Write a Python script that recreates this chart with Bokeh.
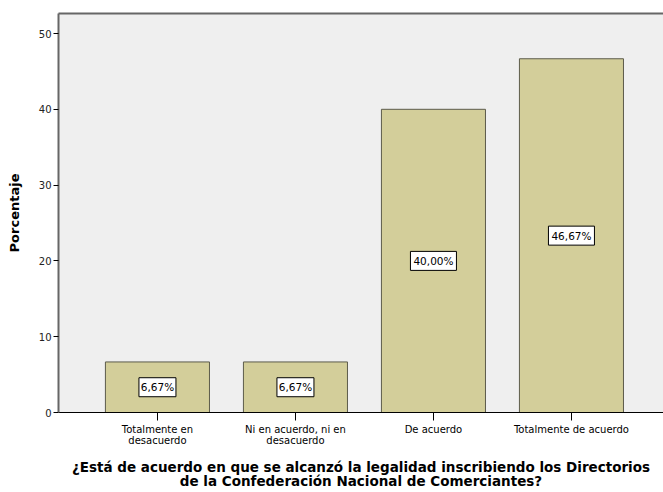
from bokeh.plotting import figure
from bokeh.models import ColumnDataSource, FixedTicker, LinearAxis, Range1d
from bokeh.core.properties import value
from bokeh.embed import file_html
from bokeh.resources import INLINE

categories = ["Totalmente en\ndesacuerdo", "Ni en acuerdo, ni en\ndesacuerdo", "De acuerdo", "Totalmente de acuerdo"]
values = [6.67, 6.67, 40.00, 46.67]
value_labels = ["6,67%", "6,67%", "40,00%", "46,67%"]
y_ticks = [0, 10, 20, 30, 40, 50]
x_title = "¿Está de acuerdo en que se alcanzó la legalidad inscribiendo los Directorios\nde la Confederación Nacional de Comerciantes?"
y_title = "Porcentaje"

xs = list(range(len(categories)))
src = ColumnDataSource(dict(x=xs, top=values, mid=[v / 2 for v in values], lab=value_labels,
                            bw=[9 * len(s) - 8 for s in value_labels]))

FONT = "DejaVu Sans"

p = figure(frame_width=605, frame_height=399, output_backend="svg", toolbar_location=None,
           x_range=Range1d(-0.717, 3.667), y_range=Range1d(0, 52.64),
           min_border_left=58, min_border_right=0, min_border_top=13, min_border_bottom=80)
p.background_fill_color = "#EFEFEF"
p.border_fill_color = "white"
p.outline_line_color = None
p.xgrid.visible = False
p.ygrid.visible = False

p.vbar(x="x", top="top", width=0.754, source=src, fill_color="#D3CE9A",
       line_color="#5C5B4B", line_width=1)

p.rect(x="x", y="mid", width="bw", height=19, width_units="screen", height_units="screen",
       source=src, fill_color="white", line_color="black", line_width=1)
p.text(x="x", y="mid", text="lab", source=src, text_align="center", text_baseline="middle",
       text_font=value(FONT), text_font_size="10.5px", text_color="black")

# x axis
xa = p.xaxis[0]
xa.ticker = FixedTicker(ticks=xs)
xa.major_label_overrides = {i: c for i, c in enumerate(categories)}
xa.major_label_text_font = FONT
xa.major_label_text_font_size = "10px"
xa.major_label_text_color = "black"
xa.major_label_text_line_height = 1.0
xa.major_tick_out = 8
xa.major_tick_in = 0
xa.minor_tick_out = 0
xa.minor_tick_in = 0
xa.axis_line_color = "black"
xa.major_tick_line_color = "black"
xa.axis_label = x_title
xa.axis_label_text_font = FONT
xa.axis_label_text_font_size = "13.5px"
xa.axis_label_text_font_style = "bold"
xa.axis_label_text_color = "black"
xa.axis_label_text_line_height = 0.92
xa.axis_label_standoff = 10
xa.major_label_standoff = 3

# y axis
ya = p.yaxis[0]
ya.ticker = FixedTicker(ticks=y_ticks)
ya.major_label_text_font = FONT
ya.major_label_text_font_size = "10px"
ya.major_label_text_color = "#222222"
ya.major_tick_out = 5
ya.major_tick_in = 0
ya.minor_tick_out = 0
ya.minor_tick_in = 0
ya.axis_line_color = "#666666"
ya.axis_line_width = 2
ya.major_tick_line_color = "black"
ya.axis_label = y_title
ya.axis_label_text_font = FONT
ya.axis_label_text_font_size = "13px"
ya.axis_label_text_font_style = "bold"
ya.axis_label_text_color = "black"
ya.axis_label_standoff = 14
ya.major_label_standoff = 2

# top border
top = LinearAxis(ticker=FixedTicker(ticks=[]), major_label_text_font_size="0px",
                 axis_line_color="#666666", axis_line_width=2,
                 major_tick_line_color=None, minor_tick_line_color=None)
p.add_layout(top, "above")

open("out.html", "w").write(file_html(p, INLINE))
